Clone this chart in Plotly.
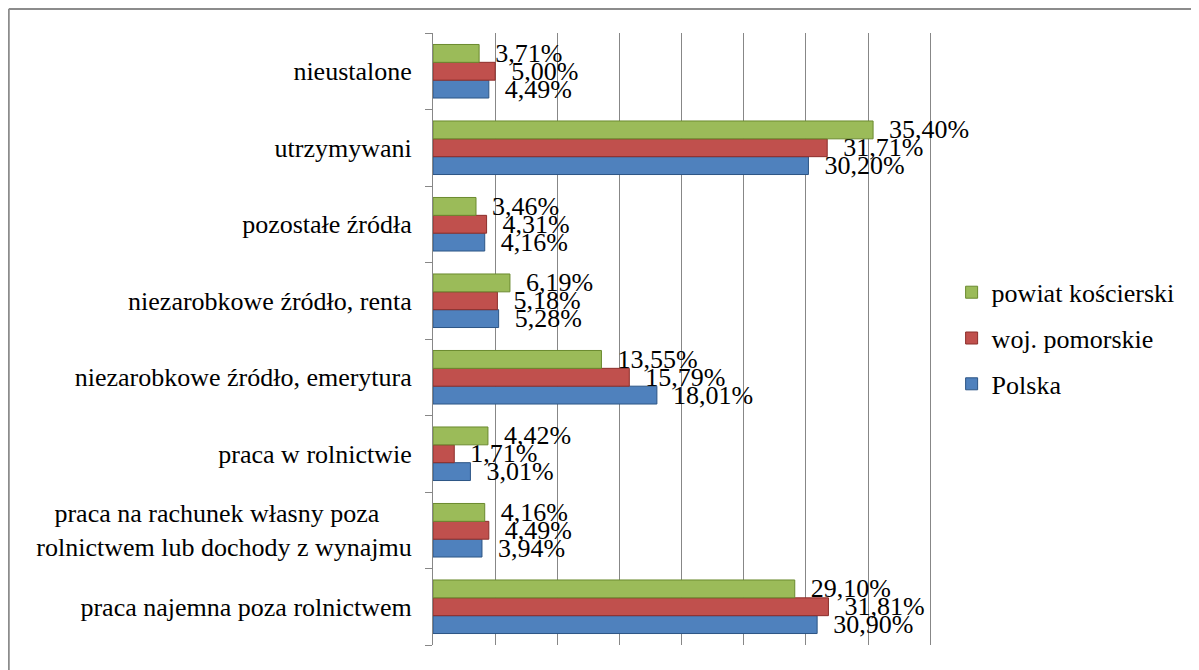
import plotly.graph_objects as go

# categories from top to bottom as in the chart
categories = ['nieustalone',
              'utrzymywani',
              'pozostałe źródła',
              'niezarobkowe źródło, renta',
              'niezarobkowe źródło, emerytura',
              'praca w rolnictwie',
              'praca na rachunek własny poza\u00a0\u00a0\u00a0\u00a0\u00a0<br>rolnictwem lub dochody z wynajmu',
              'praca najemna poza rolnictwem']

powiat = [3.71, 35.40, 3.46, 6.19, 13.55, 4.42, 4.16, 29.10]
pomorskie = [5.00, 31.71, 4.31, 5.18, 15.79, 1.71, 4.49, 31.81]
polska = [4.49, 30.20, 4.16, 5.28, 18.01, 3.01, 3.94, 30.90]

series = [('Polska', polska, '#4F81BD', '#2C5585', 3),
          ('woj. pomorskie', pomorskie, '#C0504D', '#8C2E2B', 2),
          ('powiat kościerski', powiat, '#9BBB59', '#6A8A2E', 1)]

FONT = 'Liberation Serif'
FS = 26
OFF = 8   # page margin of the html body
XMAX = 40.3


def pct(v):
    # decimal comma, label pushed a bit away from the bar end
    return "\u00a0\u00a0" + f"{v:.2f}%".replace('.', ',')


fig = go.Figure()
for name, vals, col, edge, rank in series:
    fig.add_trace(go.Bar(y=categories[::-1], x=vals[::-1], name=name, orientation='h',
                         marker=dict(color=col, line=dict(color=edge, width=1)),
                         text=[pct(v) for v in vals[::-1]], textposition='outside',
                         textfont=dict(family=FONT, size=FS, color='black'),
                         constraintext='none', cliponaxis=False,
                         legendgroup=name, legendrank=rank))

# plot area in figure pixels (0 % at x=433, 40 % at x=930 on the page)
scale = (930 - 433) / 40
L, T, B = 433 - OFF, 33 - OFF, 645 - OFF
R = L + XMAX * scale
def px_x(p):
    return (p - L) / (R - L)
def px_y(p):
    return (B - p) / (B - T)

# chart frame (only the left and top edges are visible)
fig.add_shape(type='line', xref='paper', yref='paper', x0=px_x(1), x1=px_x(1),
              y0=px_y(1), y1=px_y(672), line=dict(color='#8C8C8C', width=2))
fig.add_shape(type='line', xref='paper', yref='paper', x0=px_x(1), x1=px_x(1201),
              y0=px_y(1), y1=px_y(1), line=dict(color='#8C8C8C', width=2))

fig.update_layout(width=1199, height=670,
                  margin=dict(l=L, r=1199 - R, t=T, b=670 - B, autoexpand=False),
                  barmode='group', bargap=0.30, bargroupgap=0,
                  plot_bgcolor='white', paper_bgcolor='white',
                  font=dict(family=FONT, size=FS, color='black'),
                  showlegend=True,
                  legend=dict(traceorder='grouped', tracegroupgap=9,
                              xref='container', yref='container',
                              x=0.787, y=0.507, xanchor='left', yanchor='middle',
                              font=dict(family=FONT, size=FS),
                              itemwidth=30))
fig.update_xaxes(range=[0, XMAX], dtick=5, showticklabels=False, showgrid=True,
                 gridcolor='#878787', gridwidth=1, zeroline=False, showline=False,
                 automargin=False)
fig.update_yaxes(showline=True, linecolor='#878787', linewidth=1,
                 ticks='outside', ticklen=7, tickcolor='#878787', tickson='boundaries',
                 tickfont=dict(family=FONT, size=FS), ticklabelstandoff=15,
                 automargin=False)

fig.write_html("out.html")
